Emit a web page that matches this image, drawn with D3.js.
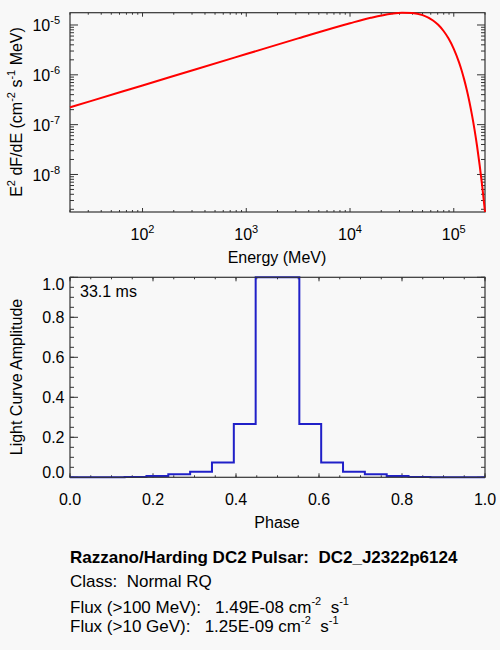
<!DOCTYPE html>
<html>
<head>
<meta charset="utf-8">
<script src="https://cdn.jsdelivr.net/npm/d3@7"></script>
<style>
  body { margin: 0; background: #f8f8f8; }
  svg { display: block; font-family: "Liberation Sans", Arial, sans-serif; }
  text { white-space: pre; }
</style>
</head>
<body>
<svg id="chart"></svg>
<script>
// spectrum (MeV, E^2 dF/dE)
var energy = [20, 31.6, 100, 316, 1000, 3162, 10000, 15850, 25120, 31620, 39810,
              50120, 63100, 70790, 79430, 89130, 100000, 112200, 118900, 125900,
              133400, 141300, 149600, 158500, 167900, 177800, 188400, 200000];
var flux = [2.22e-7, 2.97e-7, 6.12e-7, 1.265e-6, 2.61e-6, 5.38e-6, 1.085e-5, 1.393e-5,
            1.683e-5, 1.764e-5, 1.745e-5, 1.577e-5, 1.233e-5, 1.008e-5, 7.67e-6,
            5.34e-6, 3.32e-6, 1.793e-6, 1.235e-6, 8.10e-7, 5.02e-7, 2.92e-7,
            1.585e-7, 7.94e-8, 3.64e-8, 1.513e-8, 5.61e-9, 1.78e-9];

// light curve, 19 bins
var phase = [0, 0.0526, 0.1053, 0.1579, 0.2105, 0.2632, 0.3158, 0.3684, 0.4211, 0.4737,
             0.5263, 0.5789, 0.6316, 0.6842, 0.7368, 0.7895, 0.8421, 0.8947, 0.9474, 1];
var amplitude = [0, 0, 0, 0.002, 0.007, 0.015, 0.028, 0.074, 0.267, 1.0,
                 1.0, 0.267, 0.074, 0.028, 0.015, 0.006, 0.002, 0, 0, 0];

var energyTicks = [1e2, 1e3, 1e4, 1e5];
var fluxTicks = [1e-5, 1e-6, 1e-7, 1e-8];
var phaseTicks = [0, 0.2, 0.4, 0.6, 0.8, 1.0];
var ampTicks = [0, 0.2, 0.4, 0.6, 0.8, 1.0];
var minorStep = [0, 0.05, 0.1, 0.15, 0.2, 0.25, 0.3, 0.35, 0.4, 0.45, 0.5,
                 0.55, 0.6, 0.65, 0.7, 0.75, 0.8, 0.85, 0.9, 0.95, 1.0];

var title = "Razzano/Harding DC2 Pulsar:  DC2_J2322p6124";
var infoLines = ["Class:  Normal RQ"];
var fluxLabels = ["Flux (>100 MeV):", "Flux (>10 GeV):"];
var fluxValues = ["1.49E-08", "1.25E-09"];
var period = "33.1 ms";

var width = 500, height = 650;
var left = 70, right = 485;
var axisCol = "#333";
var fs = "16px", sup = "11px";

var svg = d3.select("#chart")
  .attr("width", width)
  .attr("height", height);

svg.append("rect")
  .attr("width", width)
  .attr("height", height)
  .attr("fill", "#f8f8f8");

function drawTicks(g, vals, scale, horiz, a0, dir, len) {
  vals.forEach(function (v) {
    var p = scale(v);
    if (horiz) {
      g.append("line").attr("x1", p).attr("x2", p)
        .attr("y1", a0).attr("y2", a0 + dir * len);
    } else {
      g.append("line").attr("y1", p).attr("y2", p)
        .attr("x1", a0).attr("x2", a0 + dir * len);
    }
  });
}

//top panel
var top1 = 12.7, bot1 = 212;
var x1 = d3.scaleLog().domain([20, 2e5]).range([left, right]);
var y1 = d3.scaleLog().domain([1.765e-9, 1.765e-5]).range([bot1, top1]);

var g1 = svg.append("g");

var xMinor1 = x1.ticks().filter(function (d) { return energyTicks.indexOf(d) < 0; });
var yMinor1 = y1.ticks().filter(function (d) {
  return !fluxTicks.some(function (t) { return Math.abs(t - d) / t < 1e-6; });
});

var ticks1 = g1.append("g").attr("stroke", axisCol).attr("stroke-width", 1);
drawTicks(ticks1, energyTicks, x1, true, bot1, -1, 4);
drawTicks(ticks1, energyTicks, x1, true, top1, 1, 4);
drawTicks(ticks1, xMinor1, x1, true, bot1, -1, 2);
drawTicks(ticks1, xMinor1, x1, true, top1, 1, 2);
drawTicks(ticks1, fluxTicks, y1, false, left, 1, 8);
drawTicks(ticks1, fluxTicks, y1, false, right, -1, 8);
drawTicks(ticks1, yMinor1, y1, false, left, 1, 4);
drawTicks(ticks1, yMinor1, y1, false, right, -1, 4);

g1.append("rect")
  .attr("x", left).attr("y", top1)
  .attr("width", right - left).attr("height", bot1 - top1)
  .attr("fill", "none").attr("stroke", axisCol).attr("stroke-width", 1.2);

energyTicks.forEach(function (d) {
  var t = g1.append("text")
    .attr("x", x1(d))
    .attr("y", 240)
    .attr("font-size", fs)
    .attr("text-anchor", "middle")
    .text("10");
  t.append("tspan").attr("dy", -7).attr("font-size", sup).text(Math.round(Math.log10(d)));
});

fluxTicks.forEach(function (d) {
  var t = g1.append("text")
    .attr("x", 60)
    .attr("y", y1(d) + 6.5)
    .attr("font-size", fs)
    .attr("text-anchor", "end")
    .text("10");
  t.append("tspan").attr("dy", -7).attr("font-size", sup).text(Math.round(Math.log10(d)));
});

g1.append("text")
  .attr("x", 277)
  .attr("y", 263)
  .attr("font-size", fs)
  .attr("text-anchor", "middle")
  .text("Energy (MeV)");

var yt1 = g1.append("text")
  .attr("transform", "translate(21.5,112) rotate(-90)")
  .attr("font-size", fs)
  .attr("text-anchor", "middle");
yt1.append("tspan").text("E");
yt1.append("tspan").attr("dy", -7).attr("font-size", sup).text("2");
yt1.append("tspan").attr("dy", 7).text(" dF/dE (cm");
yt1.append("tspan").attr("dy", -7).attr("font-size", sup).text("-2");
yt1.append("tspan").attr("dy", 7).text(" s");
yt1.append("tspan").attr("dy", -7).attr("font-size", sup).text("-1");
yt1.append("tspan").attr("dy", 7).text(" MeV)");

var line1 = d3.line()
  .x(function (d, i) { return x1(energy[i]); })
  .y(function (d, i) { return y1(flux[i]); })
  .curve(d3.curveMonotoneX);

g1.append("path")
  .attr("d", line1(energy))
  .attr("fill", "none")
  .attr("stroke", "#ff0000")
  .attr("stroke-width", 2);

//bottom panel
var top2 = 277.3, bot2 = 477.3;
var x2 = d3.scaleLinear().domain([0, 1]).range([left, right]);
var y2 = d3.scaleLinear().domain([0, 1]).range([bot2, top2]);

var g2 = svg.append("g");

var ticks2 = g2.append("g").attr("stroke", axisCol).attr("stroke-width", 1);
drawTicks(ticks2, phaseTicks, x2, true, bot2, -1, 4);
drawTicks(ticks2, phaseTicks, x2, true, top2, 1, 4);
drawTicks(ticks2, minorStep, x2, true, bot2, -1, 2);
drawTicks(ticks2, minorStep, x2, true, top2, 1, 2);
drawTicks(ticks2, ampTicks, y2, false, left, 1, 8);
drawTicks(ticks2, ampTicks, y2, false, right, -1, 8);
drawTicks(ticks2, minorStep, y2, false, left, 1, 4);
drawTicks(ticks2, minorStep, y2, false, right, -1, 4);

var line2 = d3.line()
  .x(function (d, i) { return x2(phase[i]); })
  .y(function (d, i) { return y2(amplitude[i]); })
  .curve(d3.curveStep);

g2.append("path")
  .attr("d", line2(phase))
  .attr("fill", "none")
  .attr("stroke", "#2020c8")
  .attr("stroke-width", 2);

g2.append("rect")
  .attr("x", left).attr("y", top2)
  .attr("width", right - left).attr("height", bot2 - top2)
  .attr("fill", "none").attr("stroke", axisCol).attr("stroke-width", 1.2);

phaseTicks.forEach(function (d) {
  g2.append("text")
    .attr("x", x2(d))
    .attr("y", 504.5)
    .attr("font-size", fs)
    .attr("text-anchor", "middle")
    .text(d.toFixed(1));
});

ampTicks.forEach(function (d, i) {
  var off = 5.5;
  if (i == 0) off = 1;
  if (i == ampTicks.length - 1) off = 12.7;
  g2.append("text")
    .attr("x", 64.5)
    .attr("y", y2(d) + off)
    .attr("font-size", fs)
    .attr("text-anchor", "end")
    .text(d.toFixed(1));
});

g2.append("text")
  .attr("x", 277)
  .attr("y", 528)
  .attr("font-size", fs)
  .attr("text-anchor", "middle")
  .text("Phase");

g2.append("text")
  .attr("transform", "translate(22,377) rotate(-90)")
  .attr("font-size", fs)
  .attr("text-anchor", "middle")
  .text("Light Curve Amplitude");

g2.append("text")
  .attr("x", 80)
  .attr("y", 297)
  .attr("font-size", fs)
  .text(period);

//info text
var infoFs = "17px";

svg.append("text")
  .attr("x", 70)
  .attr("y", 562.7)
  .attr("font-size", infoFs)
  .attr("font-weight", "bold")
  .text(title);

infoLines.forEach(function (s, i) {
  svg.append("text")
    .attr("x", 70)
    .attr("y", 587.3 + i * 25)
    .attr("font-size", infoFs)
    .text(s);
});

var fluxY = [612.5, 631.5];
fluxLabels.forEach(function (s, i) {
  var t = svg.append("text")
    .attr("x", 70)
    .attr("y", fluxY[i])
    .attr("font-size", infoFs)
    .text(s + "   " + fluxValues[i] + " cm");
  t.append("tspan").attr("dy", -8).attr("font-size", sup).text("-2");
  t.append("tspan").attr("dy", 8).text("  s");
  t.append("tspan").attr("dy", -8).attr("font-size", sup).text("-1");
});
</script>
</body>
</html>
